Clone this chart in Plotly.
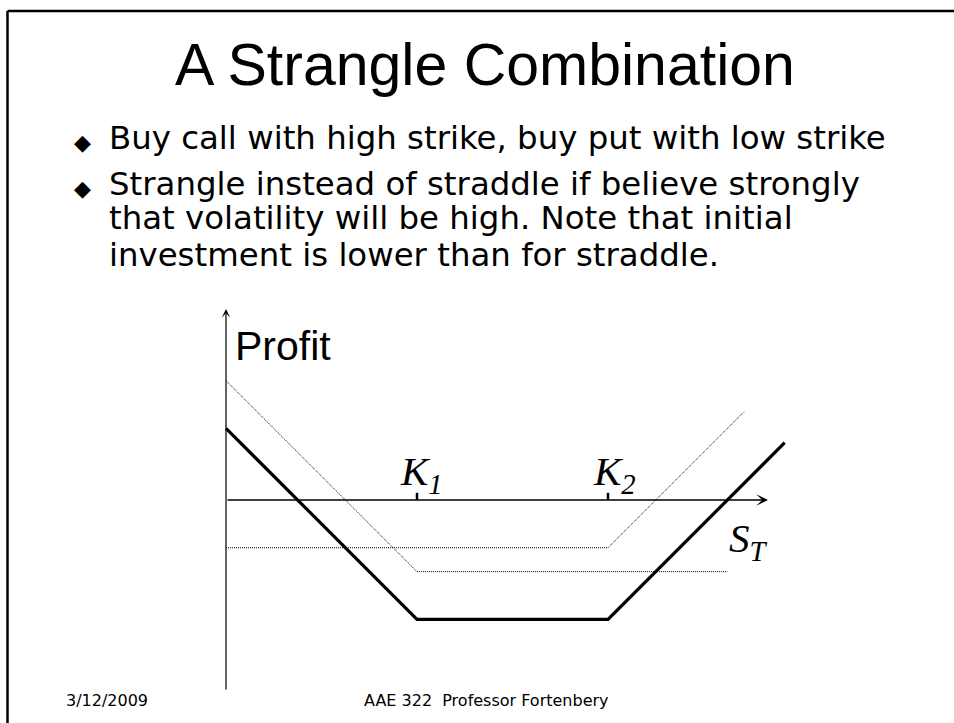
import plotly.graph_objects as go

W, H = 954, 723

# strike prices and payoff vertices (S_T, profit)
K1 = 40
K2 = 80
strangle_st = [0, 40, 80, 117]
strangle_profit = [15, -25, -25, 12]
put_st = [0, 40, 105]
put_profit = [25, -15, -15]
call_st = [0, 80, 108.5]
call_profit = [-10, -10, 18.5]

st_axis_end = 113.5
profit_axis = [-40, 40]

title = "A Strangle Combination"
bullet_lines = [
    (True, "Buy call with high strike, buy put with low strike"),
    (True, "Strangle instead of straddle if believe strongly"),
    (False, "that volatility will be high. Note that initial"),
    (False, "investment is lower than for straddle."),
]
footer_date = "3/12/2009"
footer_course = "AAE 322\u00a0 Professor Fortenbery"

# slide geometry: origin of the diagram and pixels per unit
ORIGIN_X, ORIGIN_Y = 226, 500
SCALE = 4.775


def px(x):
    return x / W


def py(y):
    return 1 - y / H


fig = go.Figure()

fig.add_trace(go.Scatter(x=put_st, y=put_profit, mode="lines",
                         line=dict(color="black", width=1, dash="1px,1px")))
fig.add_trace(go.Scatter(x=call_st, y=call_profit, mode="lines",
                         line=dict(color="black", width=1, dash="1px,1px")))
fig.add_trace(go.Scatter(x=strangle_st, y=strangle_profit, mode="lines",
                         line=dict(color="black", width=3.2)))

annotations = []

# axes drawn as arrows
annotations.append(dict(x=st_axis_end, y=0, ax=0, ay=0, xref="x", yref="y", axref="x", ayref="y",
                        text="", showarrow=True, arrowhead=3, arrowsize=1.3, arrowwidth=1.5,
                        arrowcolor="black", standoff=0))
annotations.append(dict(x=0, y=profit_axis[1], ax=0, ay=profit_axis[0], xref="x", yref="y",
                        axref="x", ayref="y", text="", showarrow=True, arrowhead=3, arrowsize=1.2,
                        arrowwidth=1.2, arrowcolor="black", standoff=0))

serif = "Liberation Serif, Times New Roman, serif"
annotations.append(dict(x=K1 - 4, y=5.5, xref="x", yref="y", xanchor="left", yanchor="middle",
                        text="<i>K</i><sub><i>1</i></sub>", showarrow=False,
                        font=dict(family=serif, size=41, color="black")))
annotations.append(dict(x=K2 - 3.5, y=5.5, xref="x", yref="y", xanchor="left", yanchor="middle",
                        text="<i>K</i><sub><i>2</i></sub>", showarrow=False,
                        font=dict(family=serif, size=41, color="black")))
annotations.append(dict(x=105, y=-8.5, xref="x", yref="y", xanchor="left",
                        yanchor="middle", text="<i>S</i><sub><i>T</i></sub>", showarrow=False,
                        font=dict(family=serif, size=41, color="black")))
annotations.append(dict(x=px(233), y=py(346), xref="paper", yref="paper", xanchor="left",
                        yanchor="middle", text="Profit", showarrow=False,
                        font=dict(family="Liberation Sans, Arial", size=41, color="black")))

# title, bullets and footer
annotations.append(dict(x=px(485), y=py(65), xref="paper", yref="paper", xanchor="center",
                        yanchor="middle", text=title, showarrow=False,
                        font=dict(family="Liberation Sans, Arial", size=59, color="black")))

line_y = [138, 184, 218, 255]
for (has_bullet, txt), yc in zip(bullet_lines, line_y):
    annotations.append(dict(x=px(107), y=py(yc), xref="paper", yref="paper", xanchor="left",
                            yanchor="middle", text=txt, showarrow=False,
                            font=dict(family="DejaVu Sans, Verdana", size=32.4, color="black")))
    if has_bullet:
        annotations.append(dict(x=px(82), y=py(yc + 5), xref="paper", yref="paper",
                                xanchor="center", yanchor="middle", text="\u25c6", showarrow=False,
                                font=dict(family="DejaVu Sans", size=22, color="black")))

annotations.append(dict(x=px(64), y=py(700), xref="paper", yref="paper", xanchor="left",
                        yanchor="middle", text=footer_date, showarrow=False,
                        font=dict(family="DejaVu Sans, Tahoma", size=16, color="black")))
annotations.append(dict(x=px(362), y=py(700), xref="paper", yref="paper", xanchor="left",
                        yanchor="middle", text=footer_course, showarrow=False,
                        font=dict(family="DejaVu Sans, Tahoma", size=16, color="black")))

shapes = [
    # slide border: only the top and left edges fall inside the window
    dict(type="line", xref="paper", yref="paper", x0=px(7.5), x1=1.0, y0=py(11), y1=py(11),
         line=dict(color="black", width=2.5)),
    dict(type="line", xref="paper", yref="paper", x0=px(7.5), x1=px(7.5), y0=0, y1=py(11),
         line=dict(color="black", width=2.5)),
    # strike tick marks
    dict(type="line", xref="x", yref="y", x0=K1, x1=K1, y0=0, y1=1.5,
         line=dict(color="black", width=2.5)),
    dict(type="line", xref="x", yref="y", x0=K2, x1=K2, y0=0, y1=1.5,
         line=dict(color="black", width=2.5)),
]

fig.update_layout(
    width=W,
    height=H,
    margin=dict(l=0, r=0, t=0, b=0),
    paper_bgcolor="white",
    plot_bgcolor="white",
    showlegend=False,
    xaxis=dict(visible=False, range=[(0 - ORIGIN_X) / SCALE, (W - ORIGIN_X) / SCALE], fixedrange=True),
    yaxis=dict(visible=False, range=[(ORIGIN_Y - H) / SCALE, ORIGIN_Y / SCALE], fixedrange=True),
    annotations=annotations,
    shapes=shapes,
)

# drop the default page margin so the slide fills the window exactly
page_css = ("document.body.style.margin='0';"
            "document.body.style.overflow='hidden';"
            "document.documentElement.style.overflow='hidden';"
            "document.body.style.background='white';")
fig.write_html("out.html", config={"displayModeBar": False}, post_script=page_css)
